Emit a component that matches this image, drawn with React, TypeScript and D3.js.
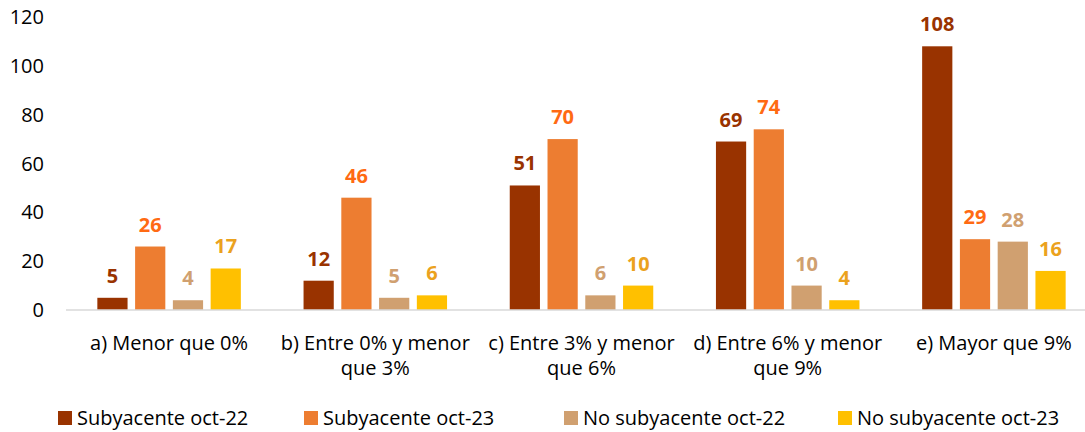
import React from 'react';
import * as d3 from 'd3';

const categories = ['a) Menor que 0%', 'b) Entre 0% y menor que 3%', 'c) Entre 3% y menor que 6%', 'd) Entre 6% y menor que 9%', 'e) Mayor que 9%'];
const categoryLines = [
    ['a) Menor que 0%'],
    ['b) Entre 0% y menor', 'que 3%'],
    ['c) Entre 3% y menor', 'que 6%'],
    ['d) Entre 6% y menor', 'que 9%'],
    ['e) Mayor que 9%'],
];
const seriesNames = ['Subyacente oct-22', 'Subyacente oct-23', 'No subyacente oct-22', 'No subyacente oct-23'];
const subyacenteOct22 = [5, 12, 51, 69, 108];
const subyacenteOct23 = [26, 46, 70, 74, 29];
const noSubyacenteOct22 = [4, 5, 6, 10, 28];
const noSubyacenteOct23 = [17, 6, 10, 4, 16];
const yTicks = [0, 20, 40, 60, 80, 100, 120];

const seriesValues = [subyacenteOct22, subyacenteOct23, noSubyacenteOct22, noSubyacenteOct23];
const barColors = ['#993300', '#ED7D31', '#D0A070', '#FFC000'];
const labelColors = ['#993300', '#FF6A13', '#D0A070', '#EBA21E'];

const font = '"Open Sans", "Noto Sans", sans-serif';

const App = () => {
    const width = 1085;
    const height = 432;

    // scales
    const x = d3.scaleBand<string>().domain(categories).range([66, 1097]);
    const xInner = d3.scaleBand<string>()
        .domain(seriesNames)
        .range([0, x.bandwidth()])
        .paddingInner(0.2)
        .paddingOuter(0.83);
    const y = d3.scaleLinear().domain([0, 120]).range([310, 17]);

    const legendX = [58, 304, 564, 838];

    return (
        <svg width={width} height={height} style={{position: 'absolute', left: 0, top: 0, fontFamily: font}}>
            {/* y axis labels */}
            {yTicks.map(t => (
                <text key={t} x={44} y={y(t)} dy="0.35em" textAnchor="end" fontSize={20} fill="#000">{t}</text>
            ))}

            {/* bars */}
            {categories.map((c, i) => (
                <g key={c} transform={`translate(${x(c)},0)`}>
                    {seriesNames.map((s, j) => {
                        const v = seriesValues[j][i];
                        const bx = xInner(s)!;
                        return (
                            <g key={s}>
                                <rect x={bx} y={y(v)} width={xInner.bandwidth()} height={y(0) - y(v)} fill={barColors[j]}/>
                                <text x={bx + xInner.bandwidth() / 2} y={y(v) - 15} textAnchor="middle"
                                      fontSize={20} fontWeight="bold" fill={labelColors[j]}>{v}</text>
                            </g>
                        );
                    })}
                </g>
            ))}

            {/* baseline */}
            <line x1={66} x2={1085} y1={y(0)} y2={y(0)} stroke="#D9D9D9" strokeWidth={1.5}/>

            {/* category labels, one text per line */}
            {categories.map((c, i) => categoryLines[i].map((line, k) => (
                <text key={c + k} x={x(c)! + x.bandwidth() / 2} y={350 + k * 25} textAnchor="middle"
                      fontSize={20} fill="#000">{line}</text>
            )))}

            {/* legend */}
            {seriesNames.map((s, j) => (
                <g key={s} transform={`translate(${legendX[j]},411)`}>
                    <rect x={0} y={0} width={14} height={14} fill={barColors[j]}/>
                    <text x={19} y={7} dy="0.35em" fontSize={20} fill="#000">{s}</text>
                </g>
            ))}
        </svg>
    );
};

export default App;
